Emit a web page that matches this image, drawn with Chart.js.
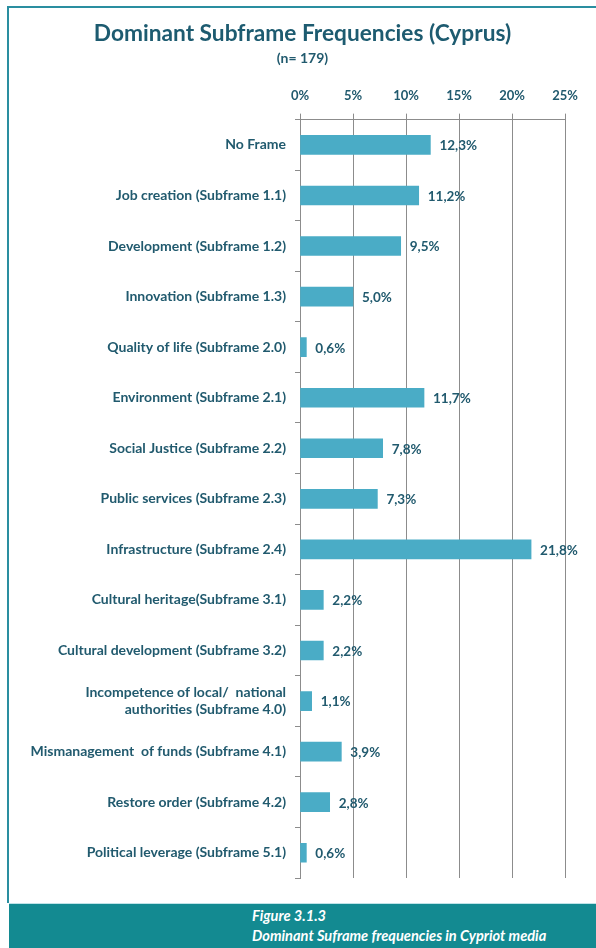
<!DOCTYPE html>
<html>
<head>
<meta charset="utf-8">
<script src="https://cdn.jsdelivr.net/npm/chart.js@4"></script>
<style>
  html, body { margin: 0; padding: 0; background: #fff; }
  body { width: 596px; height: 948px; position: relative; overflow: hidden; font-family: Lato, sans-serif; }
  #frame { position: absolute; left: 7px; top: 6px; width: 589px; height: 897px; border-left: 2px solid #2a8ea0; border-top: 2px solid #2a8ea0; box-sizing: border-box; }
  #wrap { position: absolute; left: 9px; top: 8px; width: 587px; height: 895px; }
  #footer { position: absolute; left: 9px; top: 903px; width: 587px; height: 45px; background: #138a91; border-top: 1px solid #bfe3e8; box-sizing: border-box; }
  #footer p { margin: 0; position: absolute; left: 243px; color: #fff; font-style: italic; font-weight: bold; font-size: 14.6px; line-height: 18px; }
</style>
</head>
<body>
<div id="frame"></div>
<div id="wrap"><canvas id="chart"></canvas></div>
<div id="footer">
  <p style="top:3px">Figure 3.1.3</p>
  <p style="top:23px">Dominant Suframe frequencies in Cypriot media</p>
</div>
<script>
// ===== DATA =====
const categories = [
    "No Frame",
    "Job creation (Subframe 1.1)",
    "Development (Subframe 1.2)",
    "Innovation (Subframe 1.3)",
    "Quality of life (Subframe 2.0)",
    "Environment (Subframe 2.1)",
    "Social Justice (Subframe 2.2)",
    "Public services (Subframe 2.3)",
    "Infrastructure (Subframe 2.4)",
    "Cultural heritage(Subframe 3.1)",
    "Cultural development (Subframe 3.2)",
    ["Incompetence of local/  national", "authorities (Subframe 4.0)"],
    "Mismanagement  of funds (Subframe 4.1)",
    "Restore order (Subframe 4.2)",
    "Political leverage (Subframe 5.1)"
];
const shares = [12.3, 11.2, 9.5, 5.0, 0.6, 11.7, 7.8, 7.3, 21.8, 2.2, 2.2, 1.1, 3.9, 2.8, 0.6];
const xTicks = [0, 5, 10, 15, 20, 25];

const TEXT = "#215a6e";
const GRID = "#8c8c8c";

// value labels at the end of each bar (comma decimals as in the original)
const valueLabels = {
    id: "valueLabels",
    afterDatasetsDraw(chart) {
        const c = chart.ctx;
        const meta = chart.getDatasetMeta(0);
        c.save();
        c.font = "bold 13.5px Lato";
        c.fillStyle = TEXT;
        c.textBaseline = "middle";
        meta.data.forEach((bar, i) => {
            c.fillText(shares[i].toFixed(1).replace(".", ",") + "%", bar.x + 9, bar.y + 1);
        });
        c.restore();
    }
};

const ctx = document.getElementById("chart").getContext("2d");
new Chart(ctx, {
    type: "bar",
    data: {
        labels: categories,
        datasets: [{
            data: shares,
            backgroundColor: "#4aacc6",
            borderWidth: 0,
            barThickness: 19
        }]
    },
    options: {
        indexAxis: "y",
        responsive: true,
        maintainAspectRatio: false,
        animation: false,
        layout: { padding: { left: 0, right: 0, bottom: 25, top: 0 } },
        scales: {
            x: {
                position: "top",
                min: 0,
                max: 25,
                afterBuildTicks: s => { s.ticks = xTicks.map(v => ({ value: v })); },
                ticks: {
                    color: TEXT,
                    font: { family: "Lato", weight: "bold", size: 13 },
                    padding: 10,
                    callback: v => v + "%"
                },
                grid: { color: GRID, tickLength: 6, lineWidth: 1 },
                border: { color: GRID }
            },
            y: {
                afterFit: s => { s.width = 291; },
                ticks: {
                    color: TEXT,
                    font: { family: "Lato", weight: "bold", size: 14 },
                    padding: 9
                },
                grid: { color: GRID, drawOnChartArea: false, tickLength: 5, offset: true },
                border: { color: GRID }
            },
            // empty right-hand strip so the plot ends at 25% while the title stays centred
            yRight: {
                type: "category",
                position: "right",
                labels: categories,
                afterFit: s => { s.width = 31; },
                ticks: { display: false },
                grid: { display: false },
                border: { display: false }
            }
        },
        plugins: {
            legend: { display: false },
            tooltip: { enabled: false },
            title: {
                display: true,
                text: "Dominant Subframe Frequencies (Cyprus)",
                color: "#1d5b70",
                font: { family: "Lato", weight: "bold", size: 22.7 },
                padding: { top: 12, bottom: 3 }
            },
            subtitle: {
                display: true,
                text: "(n= 179)",
                color: TEXT,
                font: { family: "Lato", weight: "bold", size: 14 },
                padding: { bottom: 11 }
            }
        }
    },
    plugins: [valueLabels]
});
</script>
</body>
</html>
